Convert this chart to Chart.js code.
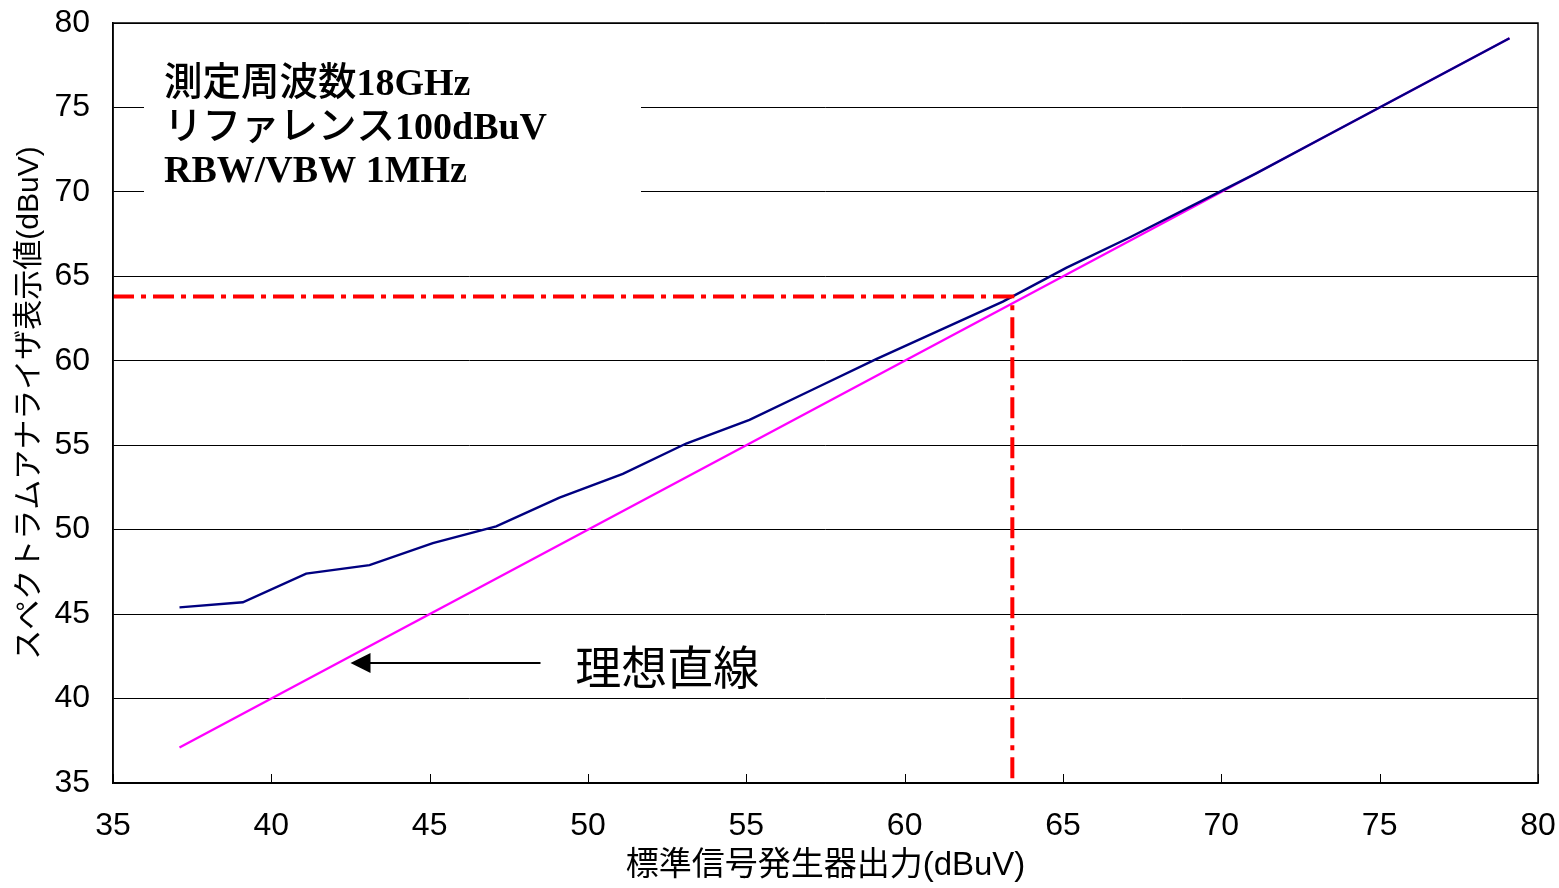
<!DOCTYPE html>
<html lang="ja">
<head>
<meta charset="utf-8">
<title>スペクトラムアナライザ直線性</title>
<script src="https://cdn.jsdelivr.net/npm/chart.js@4/dist/chart.umd.min.js"></script>
<style>
  html, body { margin: 0; padding: 0; background: #fff; }
  #wrap { width: 1559px; height: 888px; }
</style>
</head>
<body>
<div id="wrap"><canvas id="c" width="1559" height="888"></canvas></div>
<script>
// 標準信号発生器出力 (dBuV)
const sgOutput = [37.1, 39.1, 41.1, 43.1, 45.1, 47.1, 49.1, 51.1, 53.1, 55.1, 57.1,
                  59.1, 61.1, 63.1, 65.1, 67.1, 69.1, 71.1, 73.1, 75.1, 77.1, 79.1];
// スペクトラムアナライザ表示値 (dBuV)
const saReading = [45.4, 45.7, 47.4, 47.9, 49.2, 50.2, 51.9, 53.3, 55.1, 56.5, 58.3,
                   60.1, 61.8, 63.5, 65.5, 67.3, 69.2, 71.1, 73.1, 75.1, 77.1, 79.1];
// 理想直線 (表示値 = 出力)
const idealX = [37.1, 79.1];
const idealY = [37.1, 79.1];
// 読み取り点
const markX = 63.4;
const markY = 63.8;
// 軸目盛
const axisMin = 35, axisMax = 80, axisStep = 5;

// 測定条件 (和文部分, 欧文部分)
const infoLines = [['測定周波数', '18GHz'], ['リファレンス', '100dBuV'], ['', 'RBW/VBW 1MHz']];
const idealLabel = '理想直線';

const pts = (xs, ys) => xs.map((x, i) => ({ x, y: ys[i] }));

const sansFamily = "'Liberation Sans', Arial, 'Noto Sans CJK JP', sans-serif";

const overlay = {
  id: 'overlay',
  beforeDatasetsDraw(chart) {
    const { ctx, chartArea: a, scales: { x } } = chart;
    ctx.save();
    // 測定条件の白ボックス
    ctx.fillStyle = '#fff';
    ctx.fillRect(144, 40, 497, 175);
    ctx.fillStyle = '#000';
    ctx.textBaseline = 'alphabetic';
    ctx.textAlign = 'left';
    infoLines.forEach(([jp, en], i) => {
      const by = 95 + i * 43.5;
      let px = 164;
      if (jp) {
        ctx.font = "500 38.5px 'Noto Sans CJK JP', sans-serif";
        ctx.fillText(jp, px, by);
        px += ctx.measureText(jp).width;
      }
      ctx.font = "bold 38px 'Liberation Serif', 'Times New Roman', serif";
      ctx.fillText(en, px, by);
    });
    // 内向きの目盛線
    ctx.strokeStyle = '#000';
    ctx.lineWidth = 1;
    x.ticks.forEach(t => {
      const px = Math.round(x.getPixelForValue(t.value)) + 0.5;
      ctx.beginPath(); ctx.moveTo(px, a.bottom); ctx.lineTo(px, a.bottom - 9); ctx.stroke();
    });
    ctx.restore();
  },
  afterDatasetsDraw(chart) {
    const { ctx, chartArea: a, scales: { x, y } } = chart;
    ctx.save();
    // 外枠
    ctx.strokeStyle = '#000';
    ctx.lineWidth = 1.5;
    ctx.strokeRect(a.left, a.top, a.right - a.left, a.bottom - a.top);
    // 矢印
    const tipX = x.getPixelForValue(42.5), tailX = x.getPixelForValue(48.5);
    const ay = y.getPixelForValue(42.1);
    ctx.lineWidth = 2;
    ctx.beginPath(); ctx.moveTo(tailX, ay); ctx.lineTo(tipX + 18, ay); ctx.stroke();
    ctx.fillStyle = '#000';
    ctx.beginPath();
    ctx.moveTo(tipX, ay); ctx.lineTo(tipX + 20, ay - 10); ctx.lineTo(tipX + 20, ay + 10);
    ctx.closePath(); ctx.fill();
    ctx.font = "46px 'Noto Sans CJK JP', sans-serif";
    ctx.textBaseline = 'middle';
    ctx.textAlign = 'left';
    ctx.fillText(idealLabel, x.getPixelForValue(49.6), ay + 3);
    ctx.restore();
  }
};

new Chart(document.getElementById('c'), {
  type: 'scatter',
  data: {
    datasets: [
      {
        data: pts(idealX, idealY),
        showLine: true, borderColor: '#ff00ff', borderWidth: 2.4,
        pointRadius: 0, order: 2
      },
      {
        data: pts(sgOutput, saReading),
        showLine: true, borderColor: '#000080', borderWidth: 2.4,
        pointRadius: 0, order: 1
      },
      {
        data: [{ x: axisMin, y: markY }, { x: markX, y: markY }, { x: markX, y: axisMin }],
        showLine: true, borderColor: '#ff0000', borderWidth: 4,
        borderDash: [21, 7, 5, 7], pointRadius: 0, order: 0
      }
    ]
  },
  options: {
    responsive: false,
    animation: false,
    layout: { padding: { left: 0, top: 23, right: 21, bottom: 0 } },
    plugins: { legend: { display: false }, tooltip: { enabled: false } },
    scales: {
      x: {
        type: 'linear', min: axisMin, max: axisMax,
        afterFit(s) { s.height = 105; s.paddingLeft = 0; s.paddingRight = 0; },
        ticks: { stepSize: axisStep, padding: 24, color: '#000',
                 font: { family: sansFamily, size: 32 } },
        grid: { drawOnChartArea: false, drawTicks: false },
        border: { color: '#000', width: 1.5 },
        title: { display: true, text: '標準信号発生器出力(dBuV)', color: '#000',
                 font: { family: sansFamily, size: 33 }, padding: { top: 0, bottom: 2 } }
      },
      y: {
        type: 'linear', min: axisMin, max: axisMax,
        afterFit(s) { s.width = 113; s.paddingTop = 0; s.paddingBottom = 0; },
        ticks: { stepSize: axisStep, padding: 23, color: '#000',
                 font: { family: sansFamily, size: 32 } },
        grid: { color: '#000', lineWidth: 1, drawTicks: false },
        border: { color: '#000', width: 1.5 },
        title: { display: true, text: 'スペクトラムアナライザ表示値(dBuV)', color: '#000',
                 font: { family: sansFamily, size: 30 }, padding: { top: 12, bottom: 0 } }
      }
    }
  },
  plugins: [overlay]
});
</script>
</body>
</html>
